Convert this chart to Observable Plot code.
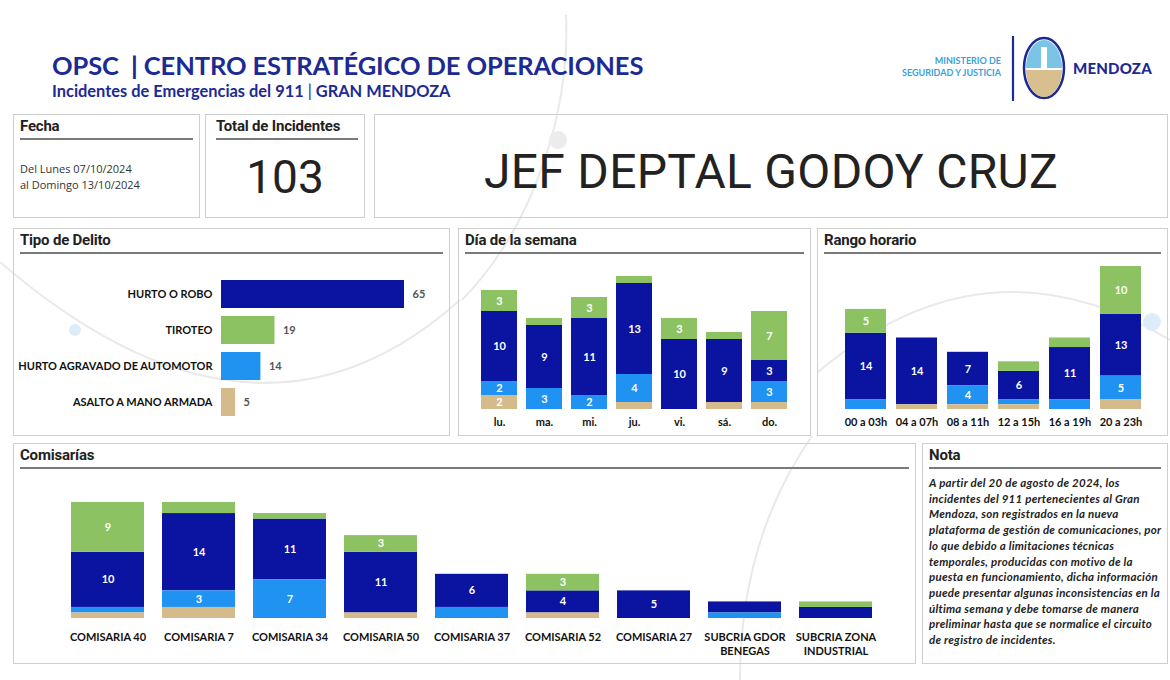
<!DOCTYPE html>
<html>
<head>
<meta charset="utf-8">
<script src="https://cdn.jsdelivr.net/npm/d3@7"></script>
<script src="https://cdn.jsdelivr.net/npm/@observablehq/plot@0.6"></script>
<style>
  html, body { margin: 0; padding: 0; background: #fff; }
  #page { position: relative; width: 1170px; height: 680px; overflow: hidden; font-family: Lato, "Open Sans", sans-serif; }
  .abs { position: absolute; }
  .panel { position: absolute; border: 1.5px solid #cfcfcf; box-sizing: border-box; }
  .ptitle { position: absolute; left: 6px; right: 6px; top: 2px; height: 21px; border-bottom: 2px solid #7a7a7a;
            font-family: Roboto, sans-serif; font-weight: 700; font-size: 15px; color: #222; letter-spacing: -0.2px; }
  .chart { position: absolute; left: 0; }
  #deco { position: absolute; left: 0; top: 0; }
</style>
</head>
<body>
<div id="page">
  <svg id="deco" width="1170" height="680">
    <g fill="none" stroke="#e9e9e9" stroke-width="2">
      <path d="M 0 262 Q 256 483 460 300"/>
      <path d="M 818 372 Q 986 230 1170 340"/>
      <path d="M 566 15 C 570 100 540 220 462 300"/>
      <path d="M 812 436 Q 740 540 740 680"/>
    </g>
    <circle cx="75" cy="330" r="6" fill="#dcedf9"/>
    <circle cx="1152" cy="322" r="9" fill="#dcedf9"/>
    <circle cx="558" cy="140" r="9" fill="#ececec"/>
  </svg>

  <!-- Header -->
  <div class="abs" style="left:52px; top:50px; font-weight:700; font-size:25.5px; color:#1c2a93; white-space:nowrap; letter-spacing:-0.1px;">OPSC&nbsp;&nbsp;<span style="font-weight:900">|</span> CENTRO ESTRATÉGICO DE OPERACIONES</div>
  <div class="abs" style="left:52px; top:81px; font-weight:700; font-size:16.4px; color:#1c2a93; white-space:nowrap;">Incidentes de Emergencias del 911 <span style="font-weight:400">|</span> GRAN MENDOZA</div>

  <!-- Logo -->
  <div class="abs" style="left:870px; top:55px; width:131px; text-align:right; font-weight:700; font-size:9px; line-height:12px; color:#3a9fdb;">MINISTERIO DE<br>SEGURIDAD Y JUSTICIA</div>
  <svg class="abs" style="left:1008px; top:33px;" width="64" height="72">
    <line x1="5" y1="3" x2="5" y2="68" stroke="#1c2a93" stroke-width="2.2"/>
    <ellipse cx="36" cy="35" rx="20" ry="30" fill="#fff" stroke="#1c2a93" stroke-width="2.5"/>
    <path d="M 18 35 A 18 28 0 0 1 54 35 Z" fill="#7cc3e8"/>
    <path d="M 18 37 A 18 27 0 0 0 54 37 Z" fill="#d8bf8f"/>
    <rect x="33" y="14" width="6" height="22" fill="#fff"/>
  </svg>
  <div class="abs" style="left:1073px; top:59px; font-weight:900; font-size:15px; color:#1c2a93; letter-spacing:0.2px;">MENDOZA</div>

  <!-- Fecha -->
  <div class="panel" style="left:13px; top:114px; width:187px; height:104px;">
    <div class="ptitle">Fecha</div>
    <div class="abs" style="left:6px; top:46px; font-family:'Open Sans',sans-serif; font-size:11px; line-height:16px; color:#333;">Del Lunes 07/10/2024<br>al Domingo 13/10/2024</div>
  </div>
  <!-- Total -->
  <div class="panel" style="left:205px; top:114px; width:160px; height:104px;">
    <div class="ptitle" style="left:10px;">Total de Incidentes</div>
    <div id="total" class="abs" style="left:0; right:0; top:35px; text-align:center; font-family:Roboto,sans-serif; font-size:46px; color:#222;"></div>
  </div>
  <!-- Name -->
  <div class="panel" style="left:374px; top:114px; width:794px; height:104px;">
    <div class="abs" style="left:0; right:0; top:28px; text-align:center; font-family:Roboto,sans-serif; font-size:48px; letter-spacing:0.3px; color:#222;">JEF DEPTAL GODOY CRUZ</div>
  </div>

  <!-- Tipo de Delito -->
  <div class="panel" style="left:13px; top:228px; width:437px; height:208px;">
    <div class="ptitle">Tipo de Delito</div>
  </div>
  <div id="tipo" class="chart" style="left:13px; top:257px;"></div>

  <!-- Día -->
  <div class="panel" style="left:458px; top:228px; width:353px; height:208px;">
    <div class="ptitle">Día de la semana</div>
  </div>
  <div id="dia" class="chart" style="left:458px; top:257px;"></div>

  <!-- Rango -->
  <div class="panel" style="left:817px; top:228px; width:351px; height:208px;">
    <div class="ptitle">Rango horario</div>
  </div>
  <div id="rango" class="chart" style="left:817px; top:257px;"></div>

  <!-- Comisarías -->
  <div class="panel" style="left:13px; top:443px; width:903px; height:221px;">
    <div class="ptitle">Comisarías</div>
  </div>
  <div id="comis" class="chart" style="left:13px; top:472px;"></div>

  <!-- Nota -->
  <div class="panel" style="left:922px; top:443px; width:246px; height:221px;">
    <div class="ptitle">Nota</div>
    <div class="abs" style="left:6px; top:31px; font-family:Lato,sans-serif; font-weight:700; font-style:italic; font-size:11.5px; letter-spacing:0.25px; line-height:15.7px; color:#222; white-space:nowrap;">A partir del 20 de agosto de 2024, los<br>incidentes del 911 pertenecientes al Gran<br>Mendoza, son registrados en la nueva<br>plataforma de gestión de comunicaciones, por<br>lo que debido a limitaciones técnicas<br>temporales, producidas con motivo de la<br>puesta en funcionamiento, dicha información<br>puede presentar algunas inconsistencias en la<br>última semana y debe tomarse de manera<br>preliminar hasta que se normalice el circuito<br>de registro de incidentes.</div>
  </div>
</div>

<script>
// ---------- DATA ----------
const tipos = ["HURTO O ROBO", "TIROTEO", "HURTO AGRAVADO DE AUTOMOTOR", "ASALTO A MANO ARMADA"];
const tipoTotales = [65, 19, 14, 5];
const totalIncidentes = 103;

const dias = ["lu.", "ma.", "mi.", "ju.", "vi.", "sá.", "do."];
const diaHurtoRobo   = [10, 9, 11, 13, 10, 9, 3];
const diaTiroteo     = [3, 1, 3, 1, 3, 1, 7];
const diaAgravado    = [2, 3, 2, 4, 0, 0, 3];
const diaAsalto      = [2, 0, 0, 1, 0, 1, 1];

const rangos = ["00 a 03h", "04 a 07h", "08 a 11h", "12 a 15h", "16 a 19h", "20 a 23h"];
const rangoHurtoRobo = [14, 14, 7, 6, 11, 13];
const rangoTiroteo   = [5, 0, 0, 2, 2, 10];
const rangoAgravado  = [2, 0, 4, 1, 2, 5];
const rangoAsalto    = [0, 1, 1, 1, 0, 2];

const comisarias = ["COMISARIA 40", "COMISARIA 7", "COMISARIA 34", "COMISARIA 50", "COMISARIA 37",
                    "COMISARIA 52", "COMISARIA 27", "SUBCRIA GDOR\nBENEGAS", "SUBCRIA ZONA\nINDUSTRIAL"];
const comHurtoRobo = [10, 14, 11, 11, 6, 4, 5, 2, 2];
const comTiroteo   = [9, 2, 1, 3, 0, 3, 0, 0, 1];
const comAgravado  = [1, 3, 7, 0, 2, 0, 0, 1, 0];
const comAsalto    = [1, 2, 0, 1, 0, 1, 0, 0, 0];

const colores = ["#0a14a0", "#8dc263", "#1f92f2", "#d5bb8c"];
// stacking order bottom → top
const ordenPila = ["ASALTO A MANO ARMADA", "HURTO AGRAVADO DE AUTOMOTOR", "HURTO O ROBO", "TIROTEO"];

// ---------- BUILD ----------
document.getElementById("total").textContent = totalIncidentes;

const colorScale = {domain: tipos, range: colores};
const baseStyle = {fontFamily: "Lato, sans-serif", fontSize: "11px", fontWeight: "bold", color: "#222", background: "transparent", overflow: "visible"};

function longData(cats, hr, ti, ag, as) {
  const out = [];
  cats.forEach((c, i) => {
    out.push({cat: c, tipo: tipos[0], value: hr[i]});
    out.push({cat: c, tipo: tipos[1], value: ti[i]});
    out.push({cat: c, tipo: tipos[2], value: ag[i]});
    out.push({cat: c, tipo: tipos[3], value: as[i]});
  });
  return out;
}

function stacked({cats, data, width, height, marginLeft, marginRight, marginTop, marginBottom, yMax, thr, tickPadding, fontSize}) {
  return Plot.plot({
    width, height, marginLeft, marginRight, marginTop, marginBottom,
    style: baseStyle,
    x: {domain: cats, padding: 0.2},
    y: {domain: [0, yMax], axis: null},
    color: colorScale,
    marks: [
      Plot.barY(data, Plot.stackY({x: "cat", y: "value", fill: "tipo", order: ordenPila})),
      Plot.text(data, Plot.stackY({x: "cat", y: "value", z: "tipo", order: ordenPila,
        text: d => d.value >= thr ? String(d.value) : null,
        fill: "white", fontWeight: "bold", fontSize: 11})),
      Plot.axisX({tickSize: 0, tickPadding, label: null, fontSize, fontWeight: "bold", lineHeight: 1.3, fill: "#111"}),
    ]
  });
}

// Tipo de Delito
const tipoData = tipos.map((t, i) => ({tipo: t, value: tipoTotales[i]}));
document.getElementById("tipo").append(Plot.plot({
  width: 436, height: 178, marginLeft: 208, marginRight: 45, marginTop: 15, marginBottom: 11,
  style: baseStyle,
  x: {domain: [0, 65], axis: null},
  y: {domain: tipos, padding: 0.22},
  color: colorScale,
  marks: [
    Plot.barX(tipoData, {x: "value", y: "tipo", fill: "tipo"}),
    Plot.text(tipoData, {x: "value", y: "tipo", text: "value", textAnchor: "start", dx: 8, fill: "#555", fontSize: 11, fontWeight: "bold"}),
    Plot.axisY({tickSize: 0, tickPadding: 9, label: null, fontSize: 11, fontWeight: "bold", fill: "#111"})
  ]
}));

document.getElementById("dia").append(stacked({
  cats: dias, data: longData(dias, diaHurtoRobo, diaTiroteo, diaAgravado, diaAsalto),
  width: 352, height: 178, marginLeft: 14, marginRight: 14, marginTop: 19, marginBottom: 26,
  yMax: 19, thr: 2, tickPadding: 6, fontSize: 11
}));

document.getElementById("rango").append(stacked({
  cats: rangos, data: longData(rangos, rangoHurtoRobo, rangoTiroteo, rangoAgravado, rangoAsalto),
  width: 350, height: 178, marginLeft: 16, marginRight: 15, marginTop: 9, marginBottom: 26,
  yMax: 30, thr: 3, tickPadding: 6, fontSize: 11
}));

document.getElementById("comis").append(stacked({
  cats: comisarias, data: longData(comisarias, comHurtoRobo, comTiroteo, comAgravado, comAsalto),
  width: 902, height: 190, marginLeft: 39, marginRight: 25, marginTop: 30, marginBottom: 44,
  yMax: 21, thr: 3, tickPadding: 12, fontSize: 11
}));
</script>
</body>
</html>
